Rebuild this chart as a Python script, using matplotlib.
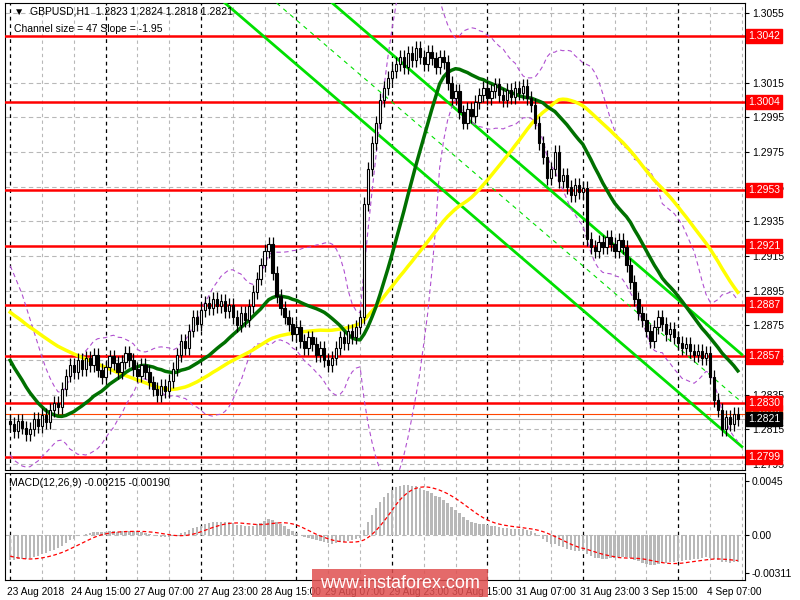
import numpy as np
import pandas as pd
import matplotlib
matplotlib.use("Agg")
import matplotlib.pyplot as plt
from matplotlib.patches import Rectangle, FancyBboxPatch

plt.rcParams['font.family'] = ['Liberation Sans', 'DejaVu Sans']

pre_closes = [1.2900,1.2904,1.2898,1.2902,1.2906,1.2900,1.2896,1.2901,1.2905,1.2899,
              1.2903,1.2907,1.2901,1.2897,1.2902,1.2906,1.2900,1.2904,1.2898,1.2902,
              1.2905,1.2899,1.2903,1.2897,1.2901,1.2904,1.2898,1.2902,1.2896,1.2900,
              1.2895,1.2898,1.2892,1.2888,1.2891,1.2884,1.2880,1.2874,1.2868,1.2862,
              1.2855,1.2850,1.2844,1.2840,1.2835,1.2830,1.2826,1.2822,1.2819,1.2820]
closes = [1.2818,1.2814,1.2820,1.2816,1.2812,1.2815,1.2821,1.2817,1.2823,1.2819,1.2826,1.2830,1.2828,
          1.2838,1.2846,1.2852,1.2848,
          1.2855,1.2850,1.2856,1.2852,1.2858,1.2849,1.2845,1.2851,1.2857,1.2853,1.2848,1.2854,1.2859,1.2855,1.2850,1.2846,1.2852,1.2848,
          1.2842,1.2838,1.2835,1.2840,1.2837,1.2843,
          1.2850,1.2858,1.2866,1.2862,1.2872,1.2880,1.2876,1.2884,1.2888,1.2885,1.2890,
          1.2886,1.2889,1.2883,1.2887,1.2880,1.2875,1.2882,1.2878,
          1.2886,1.2894,1.2902,1.2910,1.2918,1.2922,
          1.2905,1.2892,1.2885,1.2880,1.2876,1.2870,1.2874,1.2866,1.2862,1.2868,1.2864,1.2858,1.2862,1.2855,1.2852,1.2856,
          1.2862,1.2868,1.2865,1.2872,1.2868,1.2874,
          1.2880,1.2945,1.2965,1.2980,1.2992,1.3005,1.3012,1.3018,1.3022,
          1.3026,1.3030,1.3024,1.3032,1.3028,1.3035,1.3030,1.3026,1.3033,1.3029,1.3024,1.3030,1.3027,
          1.3015,1.3006,1.3010,1.2998,1.2992,1.3000,1.2996,
          1.3004,1.3008,1.3012,1.3006,1.3010,1.3014,1.3008,1.3005,1.3011,1.3007,1.3012,1.3009,1.3013,1.3006,1.3002,
          1.2992,1.2980,1.2972,1.2960,1.2965,1.2975,1.2958,1.2962,
          1.2955,1.2950,1.2956,1.2952,1.2954,
          1.2925,1.2920,1.2918,1.2923,1.2920,1.2926,1.2922,1.2918,1.2924,1.2920,
          1.2910,1.2900,1.2890,1.2882,1.2878,
          1.2872,1.2866,1.2874,1.2880,1.2876,1.2870,1.2873,1.2868,1.2865,1.2862,1.2864,1.2860,
          1.2858,1.2860,1.2856,1.2859,1.2845,1.2832,
          1.2826,1.2815,1.2822,1.2818,1.2824,1.2821]

levels = [1.3042, 1.3004, 1.2953, 1.2921, 1.2887, 1.2857, 1.2830, 1.2799]
price_ticks = [1.3055,1.3015,1.2995,1.2975,1.2955,1.2935,1.2915,1.2895,1.2875,1.2855,1.2835,1.2815,1.2795]
date_labels = ["23 Aug 2018","24 Aug 15:00","27 Aug 07:00","27 Aug 23:00","28 Aug 15:00",
               "29 Aug 07:00","29 Aug 23:00","30 Aug 15:00","31 Aug 07:00","31 Aug 23:00",
               "3 Sep 15:00","4 Sep 07:00"]
# channel anchors (bar, price)
channel_bars = [54, 184]
channel_lower = [1.3061, 1.2805]
channel_top_price = 1.3061
channel_upper_start_bar = 81
channel_mid_start_bar = 67
macd_ticks = [0.0045, 0.00, -0.00311]

allc = pd.Series(pre_closes + closes)
npre = len(pre_closes)
ma_fast = allc.rolling(20).mean().values[npre:]
ma_slow = allc.rolling(50, min_periods=1).mean().values[npre:]
bb_mid = allc.rolling(20, min_periods=5).mean()
bb_sd = allc.rolling(20, min_periods=5).std(ddof=0)
bb_up = (bb_mid + 2*bb_sd).values[npre:]
bb_dn = (bb_mid - 2*bb_sd).values[npre:]
ema12 = allc.ewm(span=12, adjust=False).mean()
ema26 = allc.ewm(span=26, adjust=False).mean()
macd = (ema12 - ema26)
sig = macd.rolling(9).mean().values[npre:]
macd = macd.values[npre:]

opens = [pre_closes[-1]] + closes[:-1]
n = len(closes)
x = np.arange(n)

fig = plt.figure(figsize=(8, 6), dpi=100)
ax = fig.add_axes([5/800, 130/600, 740/800, 467/600])
axm = fig.add_axes([5/800, 20/600, 740/800, 107/600])
for a in (ax, axm):
    a.set_xlim(-1.3, n + 0.8)
    for s in a.spines.values():
        s.set_color("black"); s.set_linewidth(0.8)
    a.yaxis.tick_right()
    a.tick_params(axis="y", labelsize=7.5, length=3, pad=2)
    a.tick_params(axis="x", length=0, labelbottom=False)

ymin, ymax = 1.27915, 1.3061
ax.set_ylim(ymin, ymax)
ax.set_yticks(price_ticks)
ax.set_yticklabels([f"{t:.4f}" for t in price_ticks])
for t in price_ticks:
    ax.axhline(t, color="#b8b8b8", ls=(0, (4, 3)), lw=0.8, zorder=0)
axm.axhline(0, color="#b8b8b8", ls=(0, (4, 3)), lw=0.8, zorder=0)
for b in range(0, n + 2, 8):
    style = dict(color="black", lw=0.9) if b % 24 == 0 else dict(color="#b8b8b8", lw=0.8)
    for a in (ax, axm):
        a.axvline(b, ls=(0, (3, 3)), zorder=0, **style)

# levels
for lv in levels:
    ax.axhline(lv, color="red", lw=1.8, zorder=3)
    ax.text(1.004, lv, f"{lv:.4f}", transform=ax.get_yaxis_transform(), fontsize=7.5,
            color="white", va="center", ha="left", clip_on=False, zorder=10,
            bbox=dict(boxstyle="square,pad=0.2", fc="red", ec="red"))
ax.axhline(1.2824, color="#ff4500", lw=0.8, zorder=2)
ax.axhline(1.2821, color="#b0b0b0", lw=0.8, zorder=2)
ax.text(1.004, 1.2825, "1.2824", transform=ax.get_yaxis_transform(), fontsize=7.5, color="white",
        va="center", ha="left", zorder=9, bbox=dict(boxstyle="square,pad=0.2", fc="#ff4500", ec="#ff4500"))
ax.text(1.004, 1.2821, "1.2821", transform=ax.get_yaxis_transform(), fontsize=7.5, color="white",
        va="center", ha="left", zorder=11, bbox=dict(boxstyle="square,pad=0.2", fc="black", ec="black"))

# channel
cb = np.array(channel_bars)
slope = (channel_lower[1] - channel_lower[0]) / (cb[1] - cb[0])
ax.plot(cb, channel_lower, color="#00e000", lw=2, zorder=4)
ub = np.array([channel_upper_start_bar, n])
ax.plot(ub, [channel_top_price, channel_top_price + slope * (ub[1] - ub[0])], color="#00e000", lw=2, zorder=4)
mb = np.array([channel_mid_start_bar, n])
ax.plot(mb, [channel_top_price, channel_top_price + slope * (mb[1] - mb[0])], color="#00e000", lw=0.8,
        ls=(0, (4, 4)), zorder=4)

# indicators
ax.plot(x, bb_up, color="#b050d0", lw=0.8, ls=(0, (4, 3)), zorder=4)
ax.plot(x, bb_dn, color="#b050d0", lw=0.8, ls=(0, (4, 3)), zorder=4)
ax.plot(x, ma_slow, color="#ffff00", lw=2.5, zorder=5)
ax.plot(x, ma_fast, color="#007000", lw=2.5, zorder=5)

# candles
w = 0.6
for i in range(n):
    o, c = opens[i], closes[i]
    hi, lo = max(o, c) + 0.0004, min(o, c) - 0.0004
    ax.vlines(i, lo, hi, color="black", lw=0.9, zorder=6)
    up = c >= o
    ax.add_patch(Rectangle((i - w/2, min(o, c)), w, max(abs(c - o), 0.00003),
                           fc="white" if up else "black", ec="black", lw=0.8, zorder=7))

ax.text(0.012, 0.992, "\u25bc  GBPUSD,H1  1.2823 1.2824 1.2818 1.2821", transform=ax.transAxes,
        fontsize=7.5, va="top", ha="left", zorder=12)
ax.text(0.012, 0.955, "Channel size = 47 Slope = -1.95", transform=ax.transAxes,
        fontsize=7.5, va="top", ha="left", zorder=12)

# MACD
axm.set_ylim(-0.00368, 0.00515)
axm.set_yticks(macd_ticks)
axm.set_yticklabels(["0.0045", "0.00", "-0.00311"])
axm.bar(x, macd, width=0.6, color="#b8b8b8", zorder=3)
axm.plot(x, sig, color="red", lw=0.9, ls=(0, (3, 2)), zorder=4)
axm.text(0.005, 0.95, "MACD(12,26,9) -0.00215 -0.00190", transform=axm.transAxes, fontsize=7.5,
         va="top", ha="left")

for k, lab in enumerate(date_labels):
    axm.text(k * 16 - 0.8, -0.00368 - 0.0006, lab, fontsize=7.3, va="top", ha="left")

fig.patches.append(FancyBboxPatch((312/800, 3/600), 176/800, 28/600, boxstyle="square,pad=0",
                                  transform=fig.transFigure, fc="#e05050", ec="none", alpha=0.85, zorder=20))
fig.text(400/800, 17/600, "www.instaforex.com", color="white", fontsize=13, ha="center", va="center", zorder=21)

fig.savefig("out.png", dpi=100)
